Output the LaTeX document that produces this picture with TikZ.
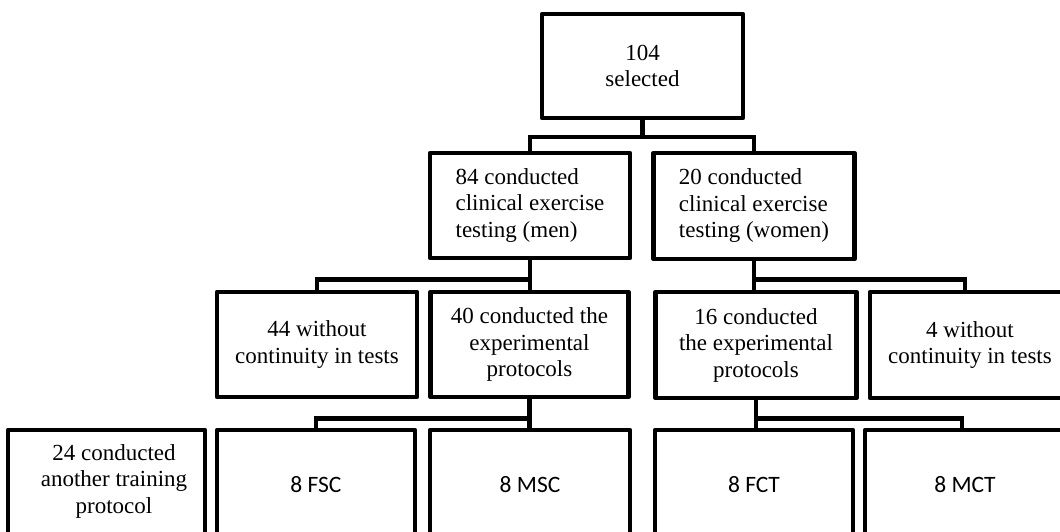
\documentclass[tikz,border=0pt]{standalone}
\usepackage{fontspec}
\setmainfont{Liberation Serif}
\newfontfamily\calfont{Carlito}
\begin{document}
\begin{tikzpicture}[x=1pt,y=-1pt,
  box/.style={draw, line width=4.5pt, line join=round, rectangle, inner sep=0pt, fill=white},
  txt/.style={font=\fontsize{23}{26.5}\selectfont, align=center, inner sep=0pt},
  sans/.style={font=\calfont\fontsize{23.5}{27}\selectfont},
  conn/.style={line width=4.5pt, line join=miter}]
\path[use as bounding box] (0,0) rectangle (1060,532);
\clip (0,0) rectangle (1060,532);
% boxes
\node[box, txt, minimum width=201pt, minimum height=104pt] (sel) at (642.5,66) {104\\selected};
\node[box, txt, align=left, minimum width=200pt, minimum height=105pt] (men) at (530,205.5) {84 conducted\\clinical exercise\\testing (men)};
\node[box, txt, align=left, minimum width=201pt, minimum height=106pt] (women) at (754,206) {20 conducted\\clinical exercise\\testing (women)};
\node[box, txt, minimum width=200pt, minimum height=105pt] (w44) at (317,344.5) {44 without\\continuity in tests};
\node[box, txt, minimum width=198pt, minimum height=105pt] (c40) at (529.5,344.5) {40 conducted the\\experimental\\protocols};
\node[box, txt, minimum width=201pt, minimum height=106pt] (c16) at (756,345) {16 conducted\\the experimental\\protocols};
\node[box, txt, minimum width=200pt, minimum height=106pt] (w4) at (970,345) {4 without\\continuity in tests};
\node[box, minimum width=197pt, minimum height=110pt] (a24) at (106.5,485) {};
\node[txt] (a24t) at (114,481) {24 conducted\\another training\\protocol};
\node[box, sans, minimum width=198pt, minimum height=110pt] (fsc) at (316,485) {8 FSC};
\node[box, sans, minimum width=200pt, minimum height=110pt] (msc) at (530,485) {8 MSC};
\node[box, sans, minimum width=198pt, minimum height=110pt] (fct) at (754,485) {8 FCT};
\node[box, sans, minimum width=200pt, minimum height=110pt] (mct) at (965,485) {8 MCT};
% connectors
\draw[conn] (sel.south) -- ++(0,17) coordinate (j1);
\draw[conn] (men.north) |- (j1) -| (women.north);
\draw[conn] (men.south) -- ++(0,19) coordinate (j2) -- (j2 |- c40.north);
\draw[conn] (w44.north) |- (j2);
\draw[conn] (women.south) -- ++(0,18) coordinate (j3) -- (j3 |- c16.north);
\draw[conn] (j3) -| ([xshift=-5pt]w4.north);
\draw[conn] (c40.south) -- ++(0,19) coordinate (j4) -- (j4 |- msc.north);
\draw[conn] (j4) -| (fsc.north);
\draw[conn] (c16.south) -- ++(0,18) coordinate (j5) -- (j5 |- fct.north);
\draw[conn] (j5) -| ([xshift=-3pt]mct.north);
\end{tikzpicture}
\end{document}
